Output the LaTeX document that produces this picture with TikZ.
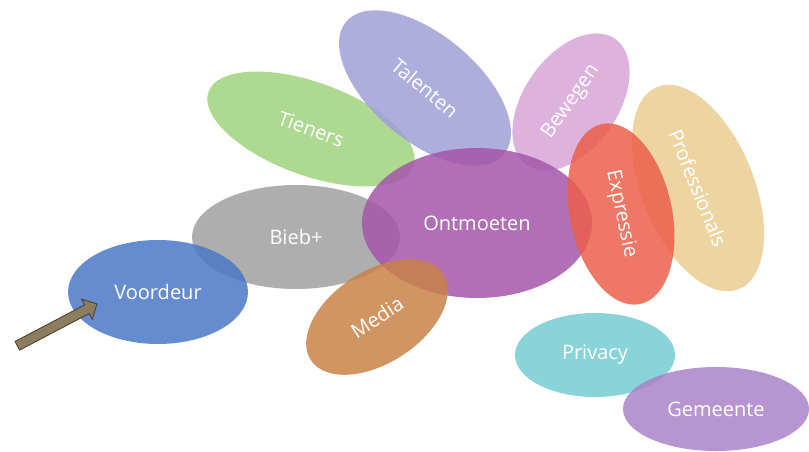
\documentclass[tikz,border=0pt]{standalone}
\usepackage{fontspec}
\newfontfamily\bloemfont{Open Sans}
\usetikzlibrary{shapes.geometric,shapes.arrows}

\definecolor{tienerskleur}{RGB}{160,210,125}
\definecolor{talentenkleur}{RGB}{160,160,215}
\definecolor{bewegenkleur}{RGB}{215,165,215}
\definecolor{profkleur}{RGB}{235,205,145}
\definecolor{biebkleur}{RGB}{160,160,160}
\definecolor{ontmoetenkleur}{RGB}{165,85,170}
\definecolor{expressiekleur}{RGB}{235,95,75}
\definecolor{mediakleur}{RGB}{200,130,70}
\definecolor{voordeurkleur}{RGB}{75,120,200}
\definecolor{privacykleur}{RGB}{115,205,210}
\definecolor{gemeentekleur}{RGB}{170,130,200}
\definecolor{pijlkleur}{RGB}{140,125,95}
\definecolor{pijlrand}{RGB}{70,60,45}

\begin{document}
\begin{tikzpicture}[x=1pt, y=1pt,
    blad/.style={ellipse, inner sep=0pt, text=white, fill opacity=0.85,
        text opacity=1, font=\bloemfont\fontsize{20}{24}\selectfont}]

    \useasboundingbox (0,0) rectangle (809,451);

    % Bladeren achteraan
    \node[blad, fill=tienerskleur, minimum width=218, minimum height=93, rotate=-20] (tieners) at (311,322) {Tieners};
    \node[blad, fill=talentenkleur, minimum width=206, minimum height=106, rotate=-40] (talenten) at (425,363) {Talenten};
    \node[blad, fill=bewegenkleur, minimum width=154, minimum height=94, rotate=55] (bewegen) at (571,349) {Bewegen};
    \node[blad, fill=profkleur, minimum width=218, minimum height=112, rotate=-68] (professionals) at (698,263) {Professionals};
    \node[blad, fill=biebkleur, minimum width=208, minimum height=104] (bieb) at (296,214) {Bieb+};

    % Hart
    \node[blad, fill=ontmoetenkleur, minimum width=230, minimum height=150] (ontmoeten) at (477,228) {Ontmoeten};

    % Bladeren vooraan
    \node[blad, fill=expressiekleur, minimum width=184, minimum height=102, rotate=-78] (expressie) at (621,237) {Expressie};
    \node[blad, fill=mediakleur, minimum width=158, minimum height=92, rotate=33] (media) at (377,134) {Media};
    \node[blad, fill=voordeurkleur, minimum width=180, minimum height=104] (voordeur) at (158,159) {Voordeur};

    % Losse bladeren
    \node[blad, fill=privacykleur, minimum width=160, minimum height=84] (privacy) at (595,96) {Privacy};
    \node[blad, fill=gemeentekleur, minimum width=186, minimum height=84] (gemeente) at (716,42) {Gemeente};

    % Pijl naar de voordeur
    \coordinate (pijlstaart) at (15,104);
    \coordinate (pijlpunt) at (95,146);
    \path (pijlstaart) -- (pijlpunt) node[midway, sloped, single arrow, inner xsep=0pt, inner ysep=4.5pt,
        minimum height=90, single arrow head extend=6.5, single arrow head indent=0pt,
        fill=pijlkleur, draw=pijlrand, thick] (pijl) {};
\end{tikzpicture}
\end{document}
